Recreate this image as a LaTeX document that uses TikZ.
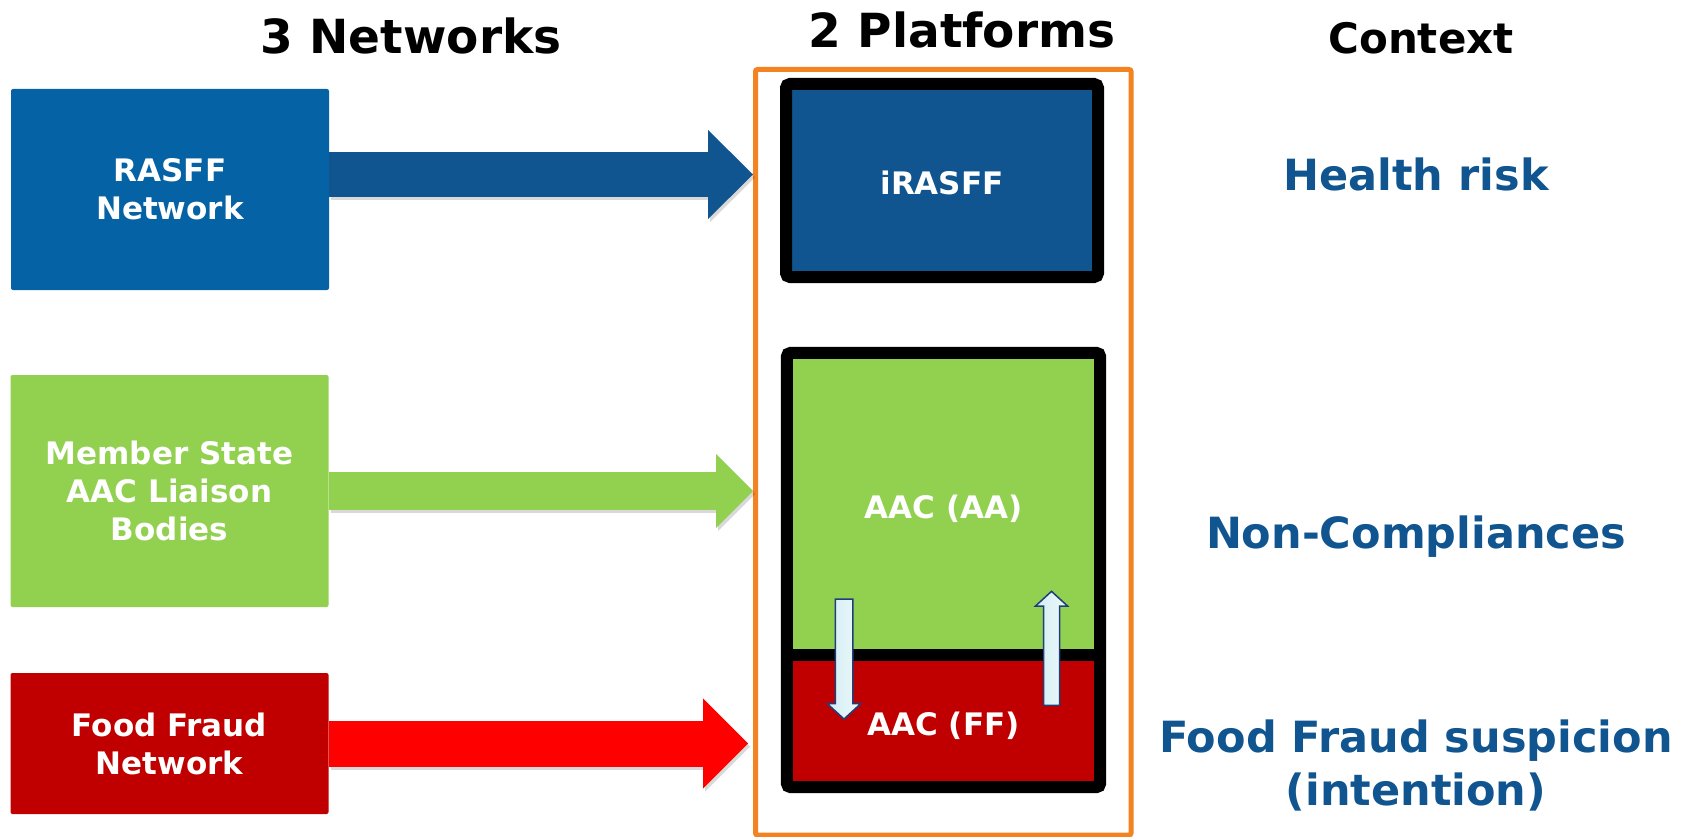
\documentclass[tikz,border=0pt]{standalone}
\usepackage{fontspec}
\setmainfont{DejaVu Sans}
\usetikzlibrary{arrows.meta,shapes.arrows}
\definecolor{netblue}{HTML}{0563A5}
\definecolor{darkblue}{HTML}{10558F}
\definecolor{aagreen}{HTML}{92D050}
\definecolor{ffred}{HTML}{C00000}
\definecolor{flowred}{HTML}{FF0000}
\definecolor{frameorange}{HTML}{F58220}
\definecolor{swapfillA}{HTML}{D2EEF4}
\definecolor{swapfillB}{HTML}{EEF8FA}
\definecolor{swapline}{HTML}{1F3F7A}
\begin{document}
\begin{tikzpicture}[x=1pt,y=-1pt]
\tikzstyle{net_style} = [rectangle, rounded corners=2pt, minimum width=318pt, inner sep=0pt, text=white, align=center, font=\bfseries\fontsize{31}{38}\selectfont]
\tikzstyle{head_style} = [anchor=base, font=\bfseries\fontsize{47}{56}\selectfont]
\tikzstyle{ctx_style} = [text=darkblue, align=center, font=\bfseries\fontsize{43}{53}\selectfont]
\tikzstyle{plat_style} = [rectangle, inner sep=0pt, text height=28pt, text depth=0pt, text=white, font=\bfseries\fontsize{31}{38}\selectfont]
\tikzstyle{border_style} = [black, line width=12pt, rounded corners=4pt]
\tikzstyle{shadow_style} = [black, opacity=0.15, transform canvas={shift={(2pt,-3pt)}}]
\tikzstyle{swap_style} = [single arrow, single arrow head extend=8pt, single arrow tip angle=95, single arrow head indent=0pt, inner xsep=0pt, draw=swapline, line width=1.5pt, left color=swapfillA, right color=swapfillB]
    \useasboundingbox (0,0) rectangle (1685,837);

    % headings
    \node[head_style] (h1) at (411,54) {3 Networks};
    \node[head_style] (h2) at (962,48) {2 Platforms};
    \node[head_style, font=\bfseries\fontsize{42}{50}\selectfont] (h3) at (1421,54) {Context};

    % networks
    \node[net_style, fill=netblue, minimum height=201pt] (rasff) at (170,189.5) {RASFF\\Network};
    \node[net_style, fill=aagreen, minimum height=232pt] (liaison) at (169.5,491) {Member State\\AAC Liaison\\Bodies};
    \node[net_style, fill=ffred, minimum height=141pt] (ffnet) at (169.5,743.5) {Food Fraud\\Network};

    % platforms
    \node[draw=frameorange, line width=5pt, rounded corners=2pt, minimum width=375.5pt, minimum height=765.5pt] (platforms) at (943.25,452.25) {};
    \node[plat_style, fill=darkblue, draw=black, line width=12pt, rounded corners=4pt, minimum width=312pt, minimum height=193pt] (irasff) at (942,180.5) {iRASFF};
    \node[plat_style, fill=aagreen, minimum width=313pt, minimum height=302pt] (aa) at (943.5,504) {AAC (AA)};
    \node[plat_style, fill=ffred, minimum width=313pt, minimum height=132pt] (ff) at (943.5,721) {AAC (FF)};
    \draw[border_style] (aa.north west) rectangle (ff.south east);
    \draw[border_style] (aa.south west) -- (aa.south east);

    \node[swap_style, rotate=-90, inner ysep=8pt, minimum height=120pt] (down) at (844,655) {};
    \node[swap_style, rotate=90, inner ysep=7.25pt, minimum height=114pt] (up) at (1051.5,652) {};

    % flows
    \coordinate (b1) at ([yshift=15pt]rasff.east);
    \coordinate (b2) at (b1 -| platforms.west);
    \coordinate (g1) at (liaison.east);
    \coordinate (g2) at (g1 -| platforms.west);
    \coordinate (r1) at (ffnet.east);
    \coordinate (r2) at ([xshift=-5pt]r1 -| platforms.west);

    \draw[shadow_style, line width=45pt, -{Triangle[length=45pt,width=89pt,line width=0pt]}] (b1) -- (b2);
    \draw[shadow_style, line width=38pt, -{Triangle[length=37pt,width=74pt,line width=0pt]}] (g1) -- (g2);
    \draw[shadow_style, line width=46pt, -{Triangle[length=45pt,width=90pt,line width=0pt]}] (r1) -- (r2);
    \draw[darkblue, line width=45pt, -{Triangle[length=45pt,width=89pt,line width=0pt]}] (b1) -- (b2);
    \draw[aagreen, line width=38pt, -{Triangle[length=37pt,width=74pt,line width=0pt]}] (g1) -- (g2);
    \draw[flowred, line width=46pt, -{Triangle[length=45pt,width=90pt,line width=0pt]}] (r1) -- (r2);

    % context
    \node[ctx_style, anchor=base] (c1) at (1416,190) {Health risk};
    \node[ctx_style, anchor=base] (c2) at (1416,548) {Non-Compliances};
    \node[ctx_style] (c3) at (1416,765) {Food Fraud suspicion\\(intention)};
\end{tikzpicture}
\end{document}
